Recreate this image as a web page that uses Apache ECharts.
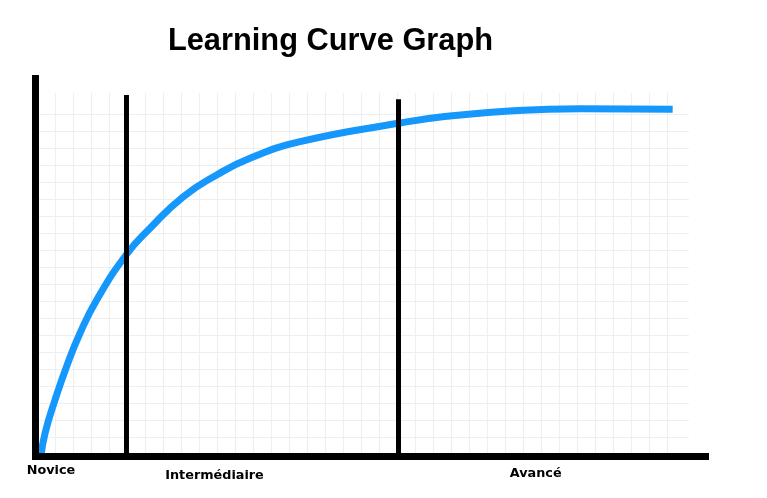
<!DOCTYPE html>
<html>
<head>
<meta charset="utf-8">
<script src="https://cdn.jsdelivr.net/npm/echarts@6/dist/echarts.min.js"></script>
<style>
html,body{margin:0;padding:0;background:#fff;}
#chart{width:767px;height:498px;}
</style>
</head>
<body>
<div id="chart"></div>
<script>
// Learning curve (practice vs. skill level, 0-100 scale)
const practice = [0.81, 1.42, 2.91, 4.63, 6.64, 9.13, 13.51, 17.09, 22.06, 27.04, 32.01, 39.48, 54.15, 61.37, 71.27, 81.27, 95.1];
const skill    = [0,    6.01, 14.83, 23.66, 32.5, 41.32, 53.25, 60.32, 68.69, 74.44, 78.86, 83.26, 88.13, 89.99, 91.47, 92.0, 91.84];
// stage boundaries
const stageX    = [13.58, 54.18];
const stageTop  = [95.6, 94.5];
const stageNames = ['Novice', 'Intermédiaire', 'Avancé'];
const title = 'Learning Curve Graph';

const chart = echarts.init(document.getElementById('chart'), null, {renderer: 'canvas'});

const curve = practice.map((x, i) => [x, skill[i]]);
const stageSeries = stageX.map((x, i) => ({
  type: 'line', xAxisIndex: 2, yAxisIndex: 2, symbol: 'none', silent: true,
  lineStyle: {color: '#000', width: 5},
  data: [[x, 0], [x, stageTop[i]]], z: 4
}));

const gridColor = '#efefef';

chart.setOption({
  animation: false,
  backgroundColor: '#fff',
  grid: [
    {left: 37.3, top: 114, width: 651.7, height: 340, containLabel: false},
    {left: 37.3, top: 93, width: 630, height: 361, containLabel: false},
    {left: 35.5, top: 78.5, width: 670, height: 377.5, containLabel: false}
  ],
  xAxis: [
    {gridIndex: 0, type: 'value', min: 0, max: 100, axisLine: {show: false}, axisTick: {show: false}, axisLabel: {show: false}, splitLine: {show: false}},
    {gridIndex: 1, type: 'value', min: 0, max: 630, interval: 18, axisLine: {show: false}, axisTick: {show: false}, axisLabel: {show: false}, splitLine: {show: true, lineStyle: {color: gridColor, width: 1.2}}},
    {gridIndex: 2, type: 'value', min: 0, max: 100, axisLine: {show: true, onZero: false, lineStyle: {color: '#000', width: 7, cap: 'square'}}, axisTick: {show: false}, axisLabel: {show: false}, splitLine: {show: false}, z: 10}
  ],
  yAxis: [
    {gridIndex: 0, type: 'value', min: 0, max: 340, interval: 17, axisLine: {show: false}, axisTick: {show: false}, axisLabel: {show: false}, splitLine: {show: true, lineStyle: {color: gridColor, width: 1.2}}},
    {gridIndex: 1, type: 'value', min: 0, max: 100, axisLine: {show: false}, axisTick: {show: false}, axisLabel: {show: false}, splitLine: {show: false}},
    {gridIndex: 2, type: 'value', min: 0, max: 100, axisLine: {show: true, onZero: false, lineStyle: {color: '#000', width: 7, cap: 'square'}}, axisTick: {show: false}, axisLabel: {show: false}, splitLine: {show: false}, z: 10}
  ],
  series: [
    {type: 'line', xAxisIndex: 2, yAxisIndex: 2, data: curve, smooth: 0.5, symbol: 'none', clip: false,
     lineStyle: {color: '#1597fb', width: 7}, z: 3},
    ...stageSeries
  ],
  graphic: [
    {type: 'text', x: 330.5, y: 42, style: {text: title, font: 'bold 30.8px "Liberation Sans", Arial, sans-serif', fill: '#000', textAlign: 'center', textVerticalAlign: 'middle'}},
    {type: 'text', x: 51, y: 471, style: {text: stageNames[0], font: 'bold 12.8px "DejaVu Sans", sans-serif', fill: '#000', textAlign: 'center', textVerticalAlign: 'middle'}},
    {type: 'text', x: 214.5, y: 476, style: {text: stageNames[1], font: 'bold 12.8px "DejaVu Sans", sans-serif', fill: '#000', textAlign: 'center', textVerticalAlign: 'middle'}},
    {type: 'text', x: 535.7, y: 473.5, style: {text: stageNames[2], font: 'bold 12.8px "DejaVu Sans", sans-serif', fill: '#000', textAlign: 'center', textVerticalAlign: 'middle'}}
  ]
});
</script>
</body>
</html>
